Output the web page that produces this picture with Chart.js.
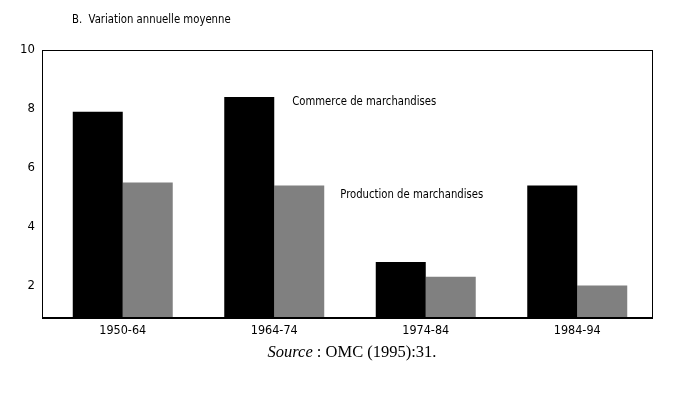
<!DOCTYPE html>
<html>
<head>
<meta charset="utf-8">
<script src="https://cdn.jsdelivr.net/npm/chart.js@4/dist/chart.umd.min.js"></script>
<style>
  html, body { margin:0; padding:0; background:#fff; }
  #wrap { position:relative; width:674px; height:394px; }
  canvas { position:absolute; left:0; top:0; }
  #title { position:absolute; left:72px; top:11px; font-family:'Liberation Sans Narrow','DejaVu Sans Condensed',Arial,sans-serif; font-size:12.5px; color:#000; white-space:nowrap; transform:scaleX(0.9); transform-origin:0 0; }
  #source { position:absolute; left:0; width:704px; top:342px; text-align:center; font-family:'Liberation Serif','Times New Roman',serif; font-size:16.5px; color:#000; }
</style>
</head>
<body>
<div id="wrap">
  <canvas id="c" width="674" height="394"></canvas>
  <div id="title">B.&nbsp; Variation annuelle moyenne</div>
  <div id="source"><i>Source</i> : OMC (1995):31.</div>
</div>
<script>
const categories = ['1950-64', '1964-74', '1974-84', '1984-94'];
const seriesNames = ['Commerce de marchandises', 'Production de marchandises'];
const commerce = [7.9, 8.4, 2.8, 5.4];
const production = [5.5, 5.4, 2.3, 2.0];
const yTicks = [2, 4, 6, 8, 10];

const FONT = "'Liberation Sans Narrow','DejaVu Sans Condensed',Arial,sans-serif";

const annot = {
  id: 'annot',
  afterDraw(chart) {
    const ctx = chart.ctx;
    const a = chart.chartArea;
    const xs = chart.scales.x, ys = chart.scales.y;
    const L = Math.round(a.left) - 4;
    ctx.save();
    ctx.strokeStyle = '#000';
    ctx.lineWidth = 1;
    ctx.strokeRect(L - 0.5, Math.round(a.top) + 0.5, Math.round(a.right) - L, Math.round(a.bottom - a.top));
    ctx.lineWidth = 2;
    ctx.beginPath();
    ctx.moveTo(L - 1, a.bottom); ctx.lineTo(a.right, a.bottom);
    ctx.stroke();
    ctx.fillStyle = '#000';
    ctx.font = '12.5px ' + FONT;
    ctx.textBaseline = 'middle';
    ctx.textAlign = 'left';
    ctx.fillText(seriesNames[0], xs.getPixelForValue(1) + 18, ys.getPixelForValue(8.25), 144);
    ctx.fillText(seriesNames[1], xs.getPixelForValue(1) + 66, ys.getPixelForValue(5.1), 143);
    ctx.restore();
  }
};

new Chart(document.getElementById('c'), {
  type: 'bar',
  data: {
    labels: categories,
    datasets: [
      { label: seriesNames[0], data: commerce, backgroundColor: '#000000', borderWidth: 0 },
      { label: seriesNames[1], data: production, backgroundColor: '#808080', borderWidth: 0 }
    ]
  },
  options: {
    responsive: false,
    animation: false,
    layout: { padding: { top: 50, right: 21, left: 0, bottom: 0 } },
    plugins: { legend: { display: false }, tooltip: { enabled: false }, title: { display: false } },
    datasets: { bar: { categoryPercentage: 0.66, barPercentage: 1.0 } },
    scales: {
      x: {
        grid: { display: false, drawTicks: false },
        border: { display: false },
        ticks: { color: '#000', font: { family: FONT, size: 12.5 }, padding: 5, maxRotation: 0 },
        afterFit(s) { s.height = 76; }
      },
      y: {
        min: 0.9, max: 10,
        grid: { display: false, drawTicks: false },
        border: { display: false },
        afterBuildTicks(s) { s.ticks = yTicks.map(v => ({ value: v })); },
        ticks: { color: '#000', font: { family: FONT, size: 13 }, padding: 12 },
        afterFit(s) { s.width = 47; }
      }
    }
  },
  plugins: [annot]
});
</script>
</body>
</html>
